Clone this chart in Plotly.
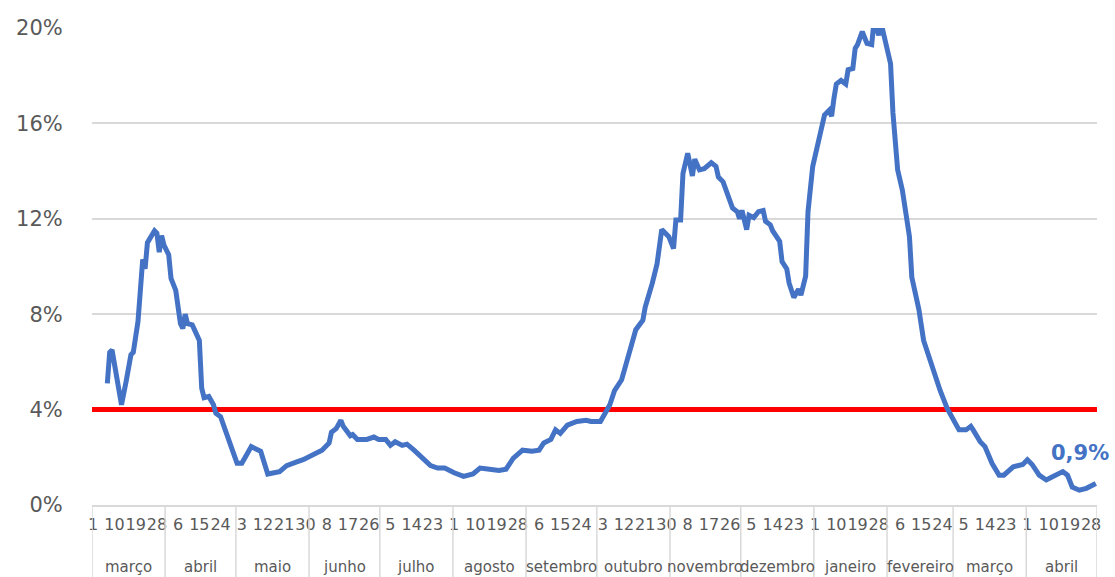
import plotly.graph_objects as go
import pandas as pd

# positivity rate (%)
dates = [
    "2020-03-07", "2020-03-08", "2020-03-09", "2020-03-11", "2020-03-13", "2020-03-15", "2020-03-17", "2020-03-18",
    "2020-03-20", "2020-03-22", "2020-03-23", "2020-03-24", "2020-03-27", "2020-03-28", "2020-03-29", "2020-03-30", "2020-03-31",
    "2020-04-02", "2020-04-03", "2020-04-05", "2020-04-07", "2020-04-08", "2020-04-09", "2020-04-10", "2020-04-12", "2020-04-15",
    "2020-04-16", "2020-04-17", "2020-04-19", "2020-04-21", "2020-04-22", "2020-04-24", "2020-04-26", "2020-04-28", "2020-04-29",
    "2020-05-01", "2020-05-03", "2020-05-05", "2020-05-07", "2020-05-09", "2020-05-11", "2020-05-14", "2020-05-16", "2020-05-19",
    "2020-05-22", "2020-05-23", "2020-05-26", "2020-05-29", "2020-05-31",
    "2020-06-03", "2020-06-06", "2020-06-09", "2020-06-10", "2020-06-12", "2020-06-14", "2020-06-15", "2020-06-16", "2020-06-18",
    "2020-06-19", "2020-06-21", "2020-06-25", "2020-06-28", "2020-06-30",
    "2020-07-03", "2020-07-05", "2020-07-07", "2020-07-10", "2020-07-12", "2020-07-15", "2020-07-18", "2020-07-22", "2020-07-25", "2020-07-28",
    "2020-08-01", "2020-08-05", "2020-08-09", "2020-08-12", "2020-08-16", "2020-08-20", "2020-08-23", "2020-08-26", "2020-08-30",
    "2020-09-03", "2020-09-06", "2020-09-08", "2020-09-11", "2020-09-13", "2020-09-15", "2020-09-18", "2020-09-22", "2020-09-26", "2020-09-28",
    "2020-10-02", "2020-10-04", "2020-10-06", "2020-10-08", "2020-10-11", "2020-10-13", "2020-10-15", "2020-10-17", "2020-10-20",
    "2020-10-21", "2020-10-24", "2020-10-26", "2020-10-28", "2020-10-31",
    "2020-11-02", "2020-11-03", "2020-11-05", "2020-11-06", "2020-11-08", "2020-11-10", "2020-11-11", "2020-11-13", "2020-11-15",
    "2020-11-18", "2020-11-20", "2020-11-21", "2020-11-23", "2020-11-25", "2020-11-27", "2020-11-29", "2020-11-30",
    "2020-12-01", "2020-12-03", "2020-12-04", "2020-12-06", "2020-12-08", "2020-12-10", "2020-12-11", "2020-12-13", "2020-12-14",
    "2020-12-16", "2020-12-17", "2020-12-18", "2020-12-20", "2020-12-21", "2020-12-23", "2020-12-25", "2020-12-26", "2020-12-28",
    "2020-12-29", "2020-12-31",
    "2021-01-01", "2021-01-03", "2021-01-05", "2021-01-07", "2021-01-08", "2021-01-09", "2021-01-10", "2021-01-12", "2021-01-14",
    "2021-01-15", "2021-01-17", "2021-01-18", "2021-01-19", "2021-01-21", "2021-01-23", "2021-01-25", "2021-01-26", "2021-01-28",
    "2021-01-29", "2021-01-31",
    "2021-02-02", "2021-02-03", "2021-02-05", "2021-02-07", "2021-02-10", "2021-02-11", "2021-02-14", "2021-02-16", "2021-02-19",
    "2021-02-21", "2021-02-23", "2021-02-26", "2021-02-28",
    "2021-03-03", "2021-03-06", "2021-03-08", "2021-03-09", "2021-03-12", "2021-03-14", "2021-03-17", "2021-03-20", "2021-03-22",
    "2021-03-26", "2021-03-30",
    "2021-04-01", "2021-04-03", "2021-04-06", "2021-04-09", "2021-04-11", "2021-04-13", "2021-04-16", "2021-04-18", "2021-04-20",
    "2021-04-23", "2021-04-26", "2021-04-30",
]
positivity = [
    5.1, 6.4, 6.5, 5.2, 4.2, 5.2, 6.3, 6.4, 7.7, 10.3, 9.9, 11.0, 11.5, 11.4, 10.6, 11.3, 10.9,
    10.5, 9.5, 9.0, 7.6, 7.4, 8.0, 7.6, 7.55, 6.9, 4.9, 4.5, 4.55, 4.2, 3.85, 3.7, 3.1, 2.45, 2.3,
    1.75, 1.75, 2.1, 2.45, 2.35, 2.25, 1.3, 1.35, 1.4, 1.65, 1.7, 1.8, 1.9, 2.0,
    2.1, 2.3, 2.6, 3.05, 3.2, 3.55, 3.3, 3.15, 2.9, 2.95, 2.75, 2.75, 2.85, 2.75,
    2.75, 2.5, 2.65, 2.5, 2.55, 2.3, 2.05, 1.65, 1.55, 1.55,
    1.35, 1.2, 1.3, 1.55, 1.5, 1.45, 1.5, 1.95, 2.3,
    2.25, 2.3, 2.6, 2.75, 3.15, 3.0, 3.35, 3.5, 3.55, 3.5,
    3.5, 3.85, 4.2, 4.8, 5.25, 5.95, 6.65, 7.35, 7.75, 8.3, 9.3, 10.1, 11.55, 11.25,
    10.75, 11.95, 11.95, 13.9, 14.75, 13.8, 14.5, 14.05, 14.1, 14.35, 14.2, 13.75, 13.55, 13.05, 12.45, 12.3, 12.0,
    12.35, 11.55, 12.15, 12.05, 12.3, 12.35, 11.9, 11.75, 11.5, 11.2, 11.05, 10.2, 9.9, 9.3, 8.7, 9.05, 8.8, 9.6, 12.3, 14.2,
    14.6, 15.35, 16.35, 16.55, 16.3, 17.05, 17.65, 17.8, 17.65, 18.25, 18.3, 19.15, 19.3, 19.85, 19.35, 19.3, 20.3, 19.7, 20.2, 19.35,
    18.5, 16.45, 14.05, 13.2, 11.25, 9.55, 8.2, 6.9, 5.95, 5.4, 4.8, 4.05, 3.7,
    3.15, 3.15, 3.3, 3.15, 2.65, 2.45, 1.75, 1.25, 1.25, 1.6, 1.7,
    1.9, 1.7, 1.25, 1.05, 1.15, 1.25, 1.4, 1.25, 0.75, 0.62, 0.7, 0.9,
]
threshold = 4
y_ticks = [0, 4, 8, 12, 16, 20]
months = ["março", "abril", "maio", "junho", "julho", "agosto", "setembro", "outubro",
          "novembro", "dezembro", "janeiro", "fevereiro", "março", "abril"]
first_day = "2020-03-01"
last_day = "2021-04-30"

GREY = "#595959"
FONT = "DejaVu Sans"

# category-like ticks every 9 days, as the spreadsheet did
tick_dates = pd.date_range(first_day, last_day, freq="9D")
tick_text = [str(d.day) for d in tick_dates]
month_starts = pd.date_range(first_day, last_day, freq="MS")
half = pd.Timedelta(hours=12)
x_lo = pd.Timestamp(first_day) - half
x_hi = pd.Timestamp(last_day) + half

fig = go.Figure()
# 4% reference line, under the series
fig.add_trace(go.Scatter(x=[x_lo, x_hi], y=[threshold, threshold], mode="lines",
                         line=dict(color="#FF0000", width=5), showlegend=False, hoverinfo="skip"))
fig.add_trace(go.Scatter(x=dates, y=positivity, mode="lines",
                         line=dict(color="#4472C4", width=5), showlegend=False))

# month separators and group labels
edges = list(month_starts - half) + [x_hi]
for e in edges:
    fig.add_shape(type="line", xref="x", yref="paper", x0=e, x1=e, y0=0, y1=-0.16,
                  line=dict(color="#D9D9D9", width=1.5))
for i, m in enumerate(months):
    mid = edges[i] + (edges[i + 1] - edges[i]) / 2
    fig.add_annotation(x=mid, y=-0.13, xref="x", yref="paper", text=m, showarrow=False,
                       font=dict(family=FONT, size=15, color=GREY), yanchor="middle")

last_label = f"{positivity[-1]:.1f}".replace(".", ",") + "%"
fig.add_annotation(x=dates[-1], y=positivity[-1], text="<b>" + last_label + "</b>", showarrow=False,
                   xshift=-16, yshift=31, font=dict(family=FONT, size=21, color="#4472C4"))

fig.update_layout(
    width=1115, height=577,
    margin=dict(l=92, r=18, t=28, b=72),
    plot_bgcolor="white", paper_bgcolor="white",
    showlegend=False,
)
fig.update_xaxes(type="date", range=[x_lo, x_hi], tickvals=tick_dates, ticktext=tick_text,
                 tickangle=0, showgrid=False, showline=True, linecolor="#D9D9D9", linewidth=1.5,
                 ticks="outside", ticklen=4, tickcolor="rgba(0,0,0,0)",
                 tickfont=dict(family=FONT, size=16, color=GREY))
fig.update_yaxes(range=[0, 20], tickvals=y_ticks, ticktext=[f"{v}%" for v in y_ticks],
                 showgrid=True, gridcolor="#D9D9D9", gridwidth=1.5, zeroline=False,
                 ticks="outside", ticklen=24, tickcolor="rgba(0,0,0,0)",
                 tickfont=dict(family=FONT, size=21, color=GREY))

fig.write_html("out.html", config={"displayModeBar": False},
               post_script="document.body.style.margin='0';")
